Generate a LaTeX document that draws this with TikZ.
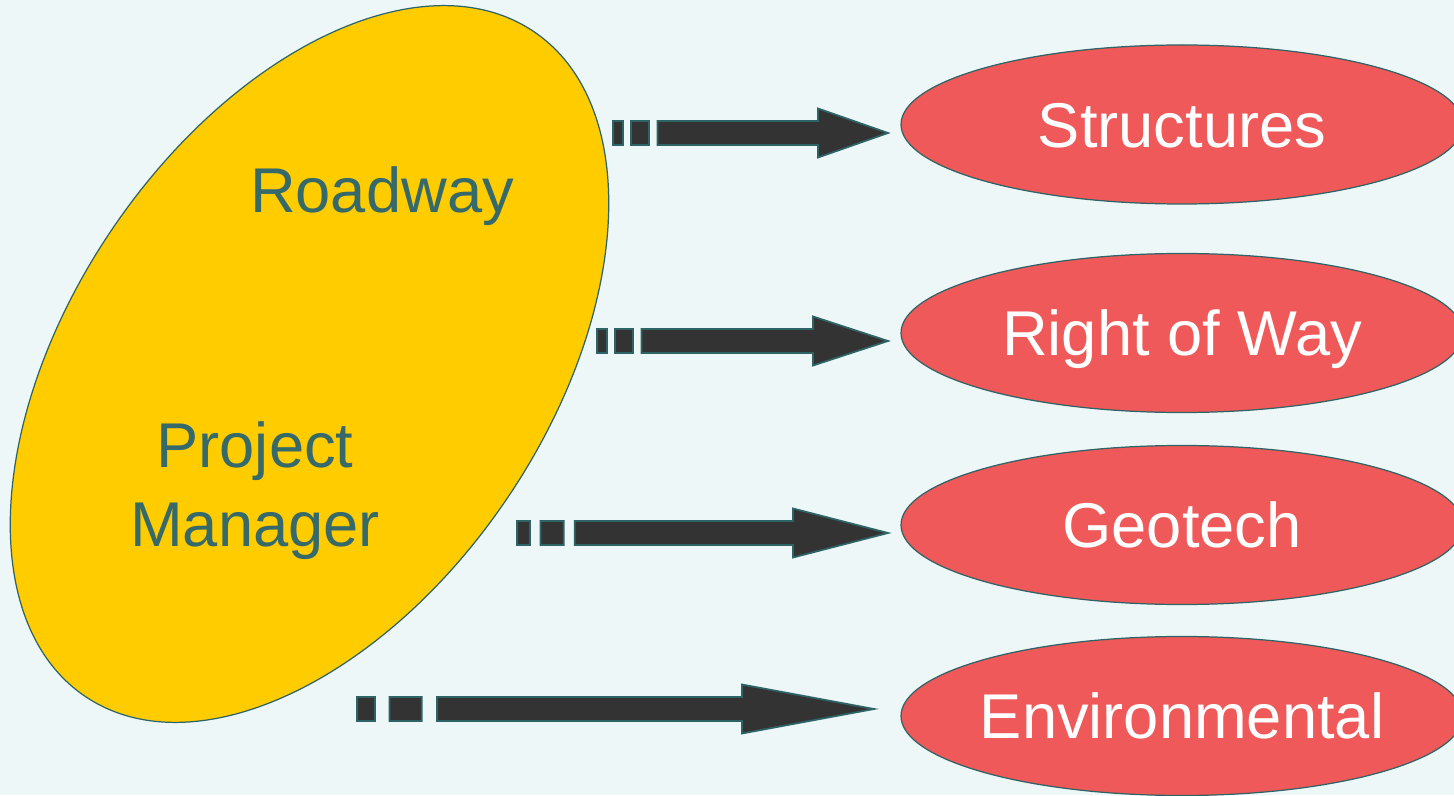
\documentclass[tikz,border=0pt]{standalone}
\usepackage{fontspec}
\setmainfont{Liberation Sans}
\usetikzlibrary{shapes.geometric, calc}

\definecolor{Backdrop}{HTML}{EDF7F8}
\definecolor{LeadYellow}{HTML}{FFCC00}
\definecolor{TeamRed}{HTML}{EF5959}
\definecolor{Outline}{HTML}{2F6466}
\definecolor{InkTeal}{HTML}{35696A}
\definecolor{ArrowGrey}{HTML}{333333}

\tikzset{
	Big/.style = {font = \fontsize{36}{44.6}\selectfont},
	Bubble/.style = {ellipse, draw = Outline, line width = 0.7pt, inner sep = 0pt},
	Team/.style = {Bubble, Big, fill = TeamRed, text = white, minimum width = 11.24cm, minimum height = 3.18cm, inner xsep = -1cm, text height = 25.8pt, text depth = 0pt},
	Label/.style = {Big, text = InkTeal, anchor = base, inner sep = 0pt},
	ArrowBody/.style = {draw = Outline, fill = ArrowGrey, line width = 1pt}
}

\newcommand{\StripedArrow}[4]{
	\draw [ArrowBody] let \p1 = (#1), \p2 = (#2) in
		(\x1, \y1 - 0.24cm) rectangle (\x1 + #3, \y1 + 0.24cm)
		(\x1 + 1.8*#3, \y1 - 0.24cm) rectangle (\x1 + 3.6*#3, \y1 + 0.24cm)
		(\x1 + 4.45*#3, \y1 - 0.24cm) -- (\x2 - #4, \y1 - 0.24cm) -- (\x2 - #4, \y1 - 0.49cm)
		-- (\x2, \y2) -- (\x2 - #4, \y1 + 0.49cm) -- (\x2 - #4, \y1 + 0.24cm)
		-- (\x1 + 4.45*#3, \y1 + 0.24cm) -- cycle;
}

\begin{document}
\begin{tikzpicture}
	\useasboundingbox (0, 0) rectangle (29.08, 15.9);
	\fill [Backdrop] (0, 0) rectangle (29.08, 15.9);

	\node (Lead) [Bubble, fill = LeadYellow, minimum width = 16.04cm, minimum height = 9.56cm, rotate = 56] at (6.19, 8.62) {};
	\node (Roadway) [Label] at (7.64, 11.64) {Roadway};
	\node (PM) [Label, align = center] at (5.1, 4.98) {Project\\Manager};

	\node (Structures) [Team] at (23.64, 13.41) {Structures};
	\node (RightOfWay) [Team] at (23.64, 9.24) {Right of Way};
	\node (Geotech) [Team] at (23.64, 5.4) {Geotech};
	\node (Environmental) [Team] at (23.64, 1.58) {Environmental};

	\coordinate (TailA) at (12.26, 13.24);
	\coordinate (TipA) at (17.76, 13.24);
	\StripedArrow{TailA}{TipA}{0.2cm}{1.4cm}

	\coordinate (TailB) at (11.94, 9.08);
	\coordinate (TipB) at (17.76, 9.08);
	\StripedArrow{TailB}{TipB}{0.2cm}{1.5cm}

	\coordinate (TailC) at (10.34, 5.24);
	\coordinate (TipC) at (17.76, 5.24);
	\StripedArrow{TailC}{TipC}{0.26cm}{1.9cm}

	\coordinate (TailD) at (7.14, 1.72);
	\coordinate (TipD) at (17.48, 1.72);
	\StripedArrow{TailD}{TipD}{0.36cm}{2.64cm}
\end{tikzpicture}
\end{document}
